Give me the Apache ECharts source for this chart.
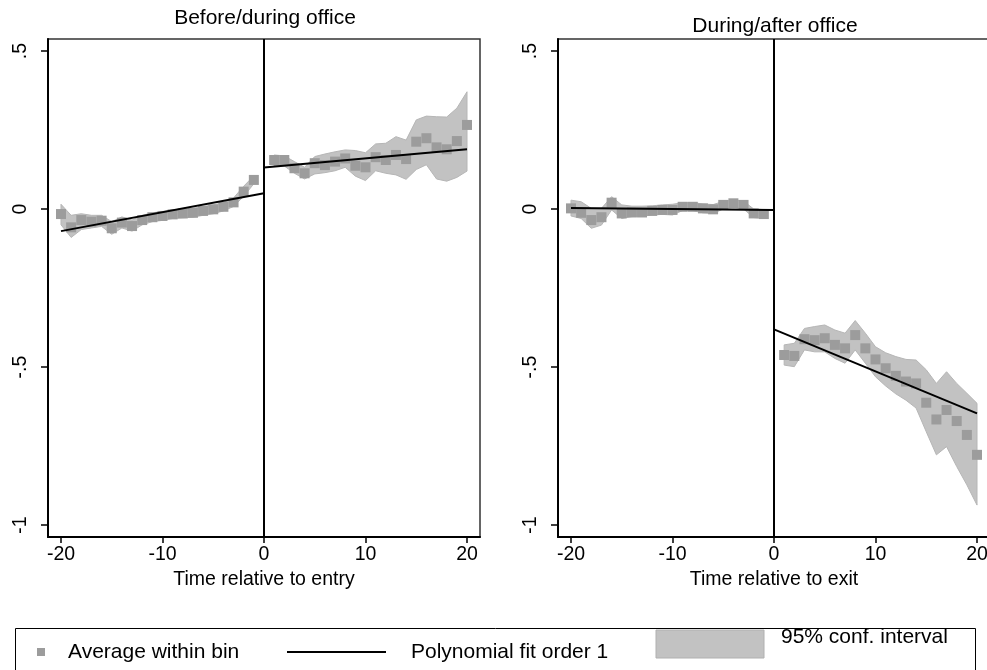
<!DOCTYPE html>
<html>
<head>
<meta charset="utf-8">
<script src="https://cdn.jsdelivr.net/npm/echarts@6/dist/echarts.min.js"></script>
<style>
  html, body { margin: 0; padding: 0; background: #fff; }
  #chart { width: 987px; height: 670px; }
</style>
</head>
<body>
<div id="chart"></div>
<script>
// Bin positions (years relative to the event)
const binsBefore = [-20, -19, -18, -17, -16, -15, -14, -13, -12, -11, -10, -9, -8, -7, -6, -5, -4, -3, -2, -1];
const binsAfter  = [1, 2, 3, 4, 5, 6, 7, 8, 9, 10, 11, 12, 13, 14, 15, 16, 17, 18, 19, 20];

// Panel 1: before/during office (relative to entry)
const entryMeanPre = [-0.016, -0.058, -0.035, -0.040, -0.037, -0.061, -0.043, -0.054, -0.035, -0.026,
                      -0.022, -0.017, -0.014, -0.012, -0.006, -0.001, 0.007, 0.021, 0.055, 0.092];
const entryUpPre   = [0.015, -0.020, -0.015, -0.020, -0.020, -0.040, -0.025, -0.035, -0.020, -0.012,
                      -0.008, -0.003, 0.000, 0.002, 0.008, 0.013, 0.020, 0.035, 0.072, 0.105];
const entryLoPre   = [-0.050, -0.090, -0.065, -0.060, -0.055, -0.080, -0.060, -0.070, -0.050, -0.040,
                      -0.036, -0.030, -0.028, -0.026, -0.020, -0.015, -0.006, 0.008, 0.040, 0.080];
const entryMeanPost = [0.155, 0.155, 0.129, 0.113, 0.145, 0.139, 0.150, 0.160, 0.137, 0.132,
                       0.164, 0.155, 0.171, 0.158, 0.213, 0.224, 0.195, 0.189, 0.215, 0.266];
const entryUpPost   = [0.171, 0.168, 0.150, 0.132, 0.166, 0.174, 0.181, 0.187, 0.185, 0.178,
                       0.206, 0.208, 0.229, 0.218, 0.282, 0.294, 0.292, 0.291, 0.319, 0.371];
const entryLoPost   = [0.136, 0.136, 0.113, 0.095, 0.111, 0.115, 0.121, 0.132, 0.104, 0.090,
                       0.121, 0.113, 0.108, 0.094, 0.125, 0.140, 0.095, 0.088, 0.100, 0.120];
const entryFitPre  = [[-20, -0.070], [0, 0.050]];
const entryFitPost = [[0, 0.131], [20, 0.189]];

// Panel 2: during/after office (relative to exit)
const exitMeanPre = [0.002, -0.012, -0.035, -0.026, 0.020, -0.014, -0.011, -0.011, -0.006, -0.003,
                     -0.003, 0.007, 0.007, 0.002, -0.001, 0.013, 0.018, 0.013, -0.014, -0.016];
const exitUpPre   = [0.028, 0.023, 0.002, 0.002, 0.039, 0.013, 0.009, 0.009, 0.010, 0.013,
                     0.015, 0.020, 0.020, 0.016, 0.014, 0.024, 0.029, 0.025, 0.000, -0.002];
const exitLoPre   = [-0.022, -0.030, -0.061, -0.051, -0.003, -0.030, -0.024, -0.022, -0.019, -0.017,
                     -0.019, -0.005, -0.005, -0.012, -0.014, 0.000, 0.006, 0.000, -0.027, -0.030];
const exitMeanPost = [-0.462, -0.465, -0.412, -0.415, -0.409, -0.430, -0.441, -0.399, -0.441, -0.476,
                      -0.504, -0.528, -0.546, -0.552, -0.613, -0.666, -0.636, -0.671, -0.715, -0.778];
const exitUpPost   = [-0.430, -0.425, -0.378, -0.372, -0.367, -0.383, -0.393, -0.353, -0.393, -0.436,
                      -0.455, -0.467, -0.476, -0.478, -0.509, -0.552, -0.515, -0.552, -0.583, -0.615];
const exitLoPost   = [-0.494, -0.499, -0.446, -0.452, -0.452, -0.473, -0.488, -0.446, -0.488, -0.531,
                      -0.560, -0.585, -0.605, -0.630, -0.705, -0.778, -0.752, -0.815, -0.873, -0.937];
const exitFitPre  = [[-20, 0.003], [0, -0.003]];
const exitFitPost = [[0, -0.381], [20, -0.647]];

// Axis ticks
const xTickValues = [-20, -10, 0, 10, 20];
const yTickValues = [-1, -0.5, 0, 0.5];
const yTickLabels = ['-1', '-.5', '0', '.5'];

const panelTitles = ['Before/during office', 'During/after office'];
const axisTitles  = ['Time relative to entry', 'Time relative to exit'];
const legendLabels = ['Average within bin', 'Polynomial fit order 1', '95% conf. interval'];

const FONT = '"Liberation Sans", Arial, sans-serif';
const MEAN_COLOR = '#9c9c9c';
const BAND_COLOR = '#c2c2c2';
const AXIS_FONT = 19.5;
const BIG_FONT = 21;

function zip(xs, ys) { return xs.map((x, i) => [x, ys[i]]); }
function bandData(xs, lo, up) { return xs.map((x, i) => [x, lo[i], up[i]]); }

// Confidence band drawn as one polygon: upper edge forward, lower edge back
function bandSeries(idx, xs, lo, up) {
  const rows = bandData(xs, lo, up);
  return {
    type: 'custom', xAxisIndex: idx, yAxisIndex: idx, z: 1, silent: true,
    data: rows,
    encode: { x: 0, y: [1, 2] },
    renderItem: function (params, api) {
      if (params.dataIndex !== 0) return null;
      const pts = [];
      for (let i = 0; i < rows.length; i++) pts.push(api.coord([rows[i][0], rows[i][2]]));
      for (let i = rows.length - 1; i >= 0; i--) pts.push(api.coord([rows[i][0], rows[i][1]]));
      return { type: 'polygon', shape: { points: pts },
               style: { fill: BAND_COLOR, stroke: '#b6b6b6', lineWidth: 1 } };
    }
  };
}

function meanSeries(idx, xs, ys) {
  return { type: 'scatter', xAxisIndex: idx, yAxisIndex: idx, z: 3, silent: true,
           symbol: 'rect', symbolSize: 10, itemStyle: { color: MEAN_COLOR, opacity: 1 },
           data: zip(xs, ys) };
}

function fitSeries(idx, pts, withZeroLine) {
  const s = { type: 'line', xAxisIndex: idx, yAxisIndex: idx, z: 4, silent: true,
              symbol: 'none', lineStyle: { color: '#000', width: 2 }, data: pts };
  if (withZeroLine) {
    s.markLine = { silent: true, symbol: 'none', label: { show: false },
                   lineStyle: { color: '#000', width: 2, type: 'solid' },
                   data: [{ xAxis: 0 }] };
  }
  return s;
}

function xAxisFor(idx) {
  return {
    type: 'value', gridIndex: idx, min: -21.28, max: 21.28,
    splitLine: { show: false },
    axisLine: { show: true, onZero: false, lineStyle: { color: '#000', width: 2 } },
    axisTick: { show: true, customValues: xTickValues, length: 6, lineStyle: { color: '#000', width: 1.5 } },
    axisLabel: { customValues: xTickValues, color: '#000', fontFamily: FONT, fontSize: AXIS_FONT, margin: 8 },
    name: axisTitles[idx], nameLocation: 'middle', nameGap: 29,
    nameTextStyle: { color: '#000', fontFamily: FONT, fontSize: AXIS_FONT }
  };
}

function yAxisFor(idx) {
  return {
    type: 'value', gridIndex: idx, min: -1.038, max: 0.538,
    splitLine: { show: false },
    axisLine: { show: true, onZero: false, lineStyle: { color: '#000', width: 2 } },
    axisTick: { show: true, customValues: yTickValues, length: 7, lineStyle: { color: '#000', width: 1.5 } },
    axisLabel: { customValues: yTickValues, rotate: 90, color: '#000', fontFamily: FONT, fontSize: AXIS_FONT, margin: 17,
                 formatter: v => yTickLabels[yTickValues.indexOf(Math.round(v * 10) / 10)] }
  };
}

const chart = echarts.init(document.getElementById('chart'), null, { renderer: 'canvas' });

const option = {
  animation: false,
  backgroundColor: '#fff',
  title: [
    { text: panelTitles[0], left: 265, top: 8, padding: 0, textAlign: 'center',
      textStyle: { fontFamily: FONT, fontSize: BIG_FONT, fontWeight: 'normal', color: '#000' } },
    { text: panelTitles[1], left: 775, top: 16, padding: 0, textAlign: 'center',
      textStyle: { fontFamily: FONT, fontSize: BIG_FONT, fontWeight: 'normal', color: '#000' } }
  ],
  grid: [
    { left: 48, top: 39, width: 432, height: 498, show: true, borderColor: '#333', borderWidth: 1.5,
      backgroundColor: 'transparent', outerBoundsMode: 'none' },
    { left: 558, top: 39, width: 432, height: 498, show: true, borderColor: '#333', borderWidth: 1.5,
      backgroundColor: 'transparent', outerBoundsMode: 'none' }
  ],
  xAxis: [xAxisFor(0), xAxisFor(1)],
  yAxis: [yAxisFor(0), yAxisFor(1)],
  series: [
    bandSeries(0, binsBefore, entryLoPre, entryUpPre),
    bandSeries(0, binsAfter, entryLoPost, entryUpPost),
    meanSeries(0, binsBefore, entryMeanPre),
    meanSeries(0, binsAfter, entryMeanPost),
    fitSeries(0, entryFitPre, true),
    fitSeries(0, entryFitPost, false),

    bandSeries(1, binsBefore, exitLoPre, exitUpPre),
    bandSeries(1, binsAfter, exitLoPost, exitUpPost),
    meanSeries(1, binsBefore, exitMeanPre),
    meanSeries(1, binsAfter, exitMeanPost),
    fitSeries(1, exitFitPre, true),
    fitSeries(1, exitFitPost, false)
  ],
  graphic: [
    { type: 'rect', silent: true, shape: { x: 15.5, y: 628.5, width: 960, height: 60 },
      style: { fill: 'none', stroke: '#000', lineWidth: 1 } },
    { type: 'rect', silent: true, shape: { x: 37, y: 648, width: 8, height: 8 },
      style: { fill: MEAN_COLOR } },
    { type: 'text', silent: true, x: 68, y: 652,
      style: { text: legendLabels[0], font: BIG_FONT + 'px ' + FONT, fill: '#000', verticalAlign: 'middle' } },
    { type: 'line', silent: true, shape: { x1: 287, y1: 652, x2: 386, y2: 652 },
      style: { stroke: '#000', lineWidth: 2 } },
    { type: 'text', silent: true, x: 411, y: 652,
      style: { text: legendLabels[1], font: BIG_FONT + 'px ' + FONT, fill: '#000', verticalAlign: 'middle' } },
    { type: 'rect', silent: true, shape: { x: 656, y: 630, width: 108, height: 28 },
      style: { fill: BAND_COLOR, stroke: '#b0b0b0', lineWidth: 1 } },
    { type: 'text', silent: true, x: 781, y: 637,
      style: { text: legendLabels[2], font: BIG_FONT + 'px ' + FONT, fill: '#000', verticalAlign: 'middle' } }
  ]
};

chart.setOption(option);
</script>
</body>
</html>
